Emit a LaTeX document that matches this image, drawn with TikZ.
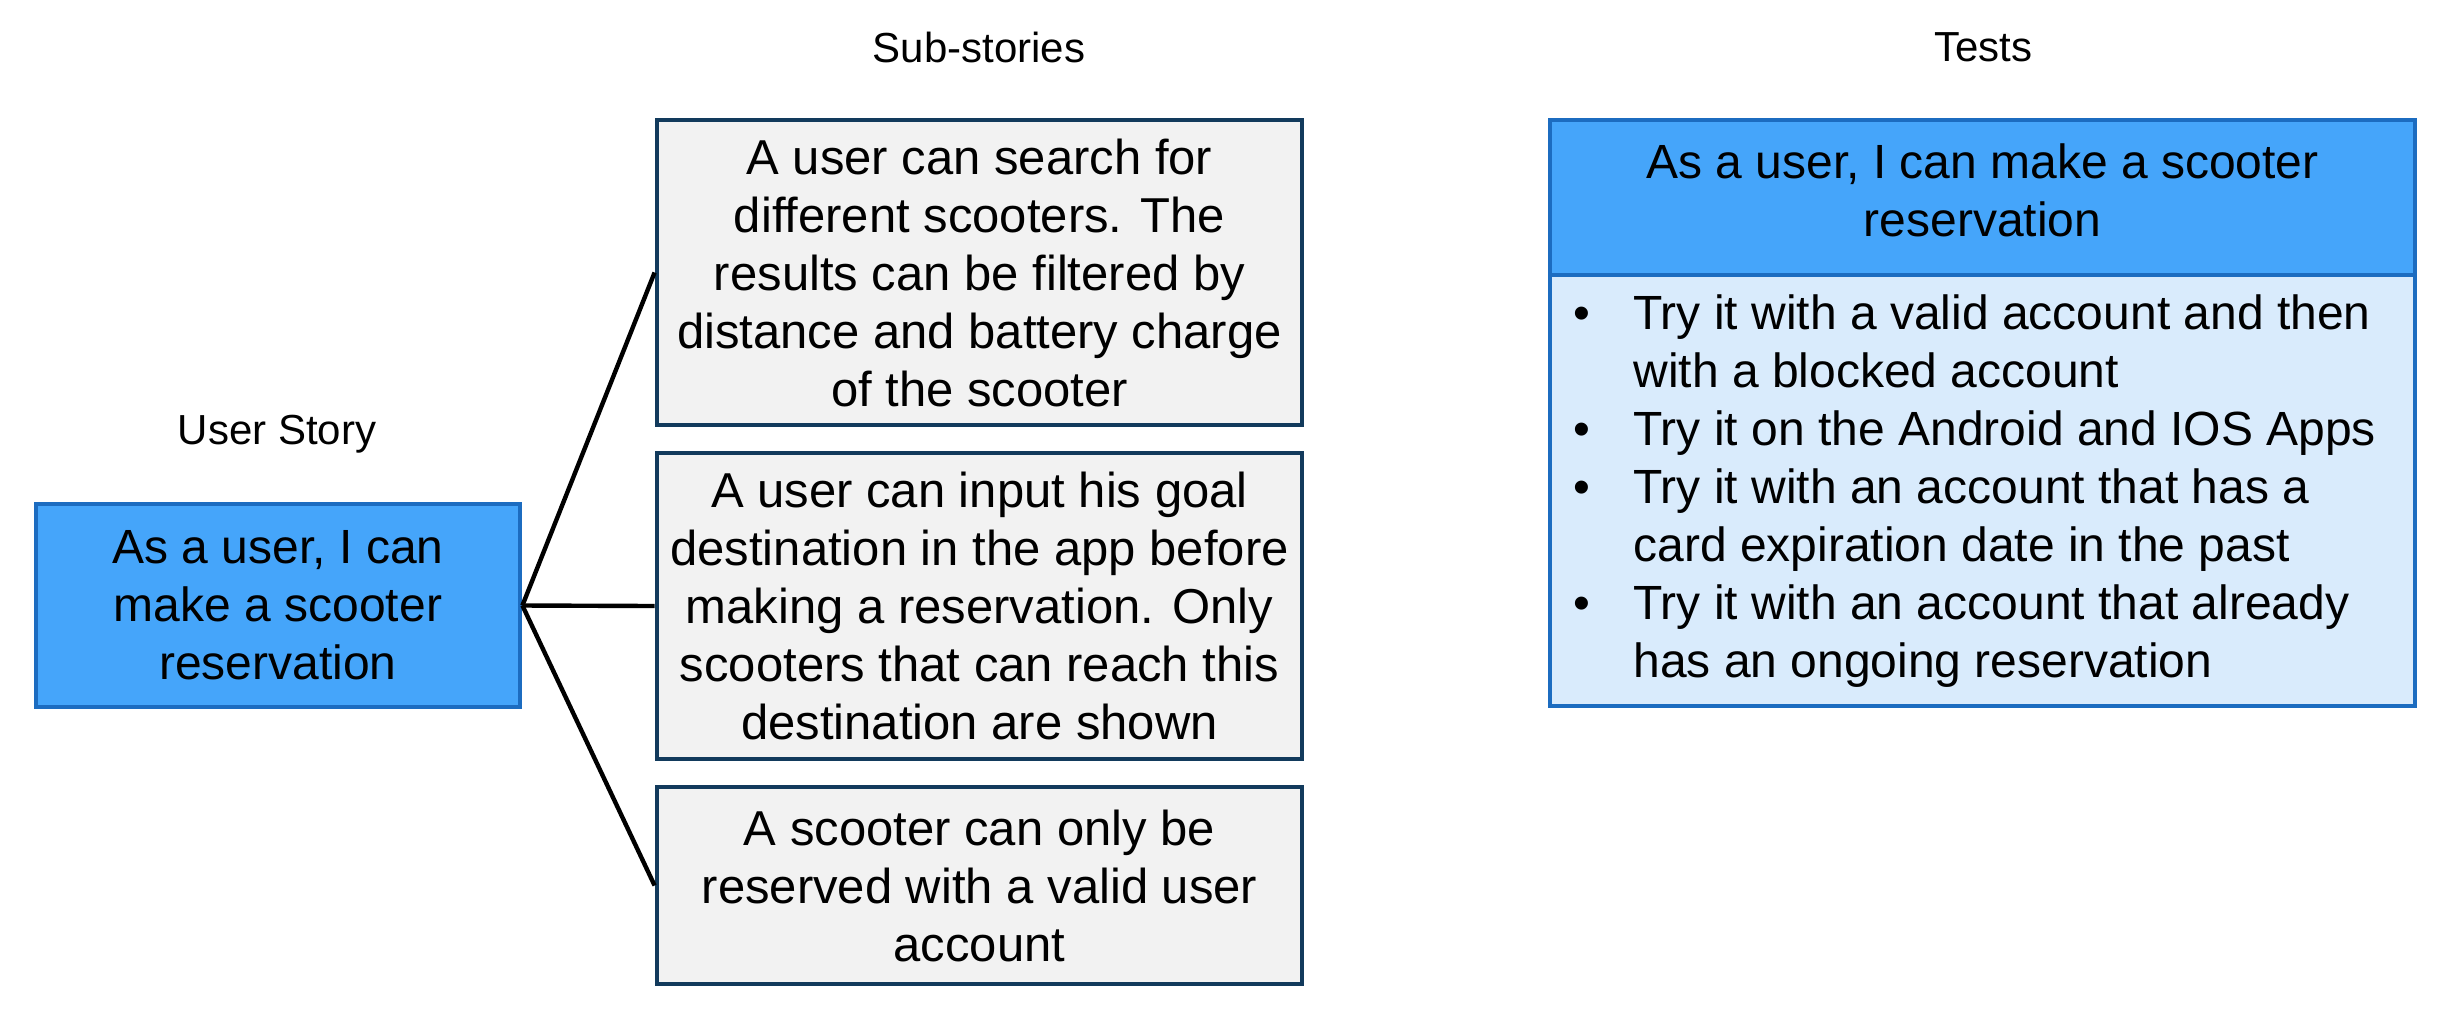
\documentclass[tikz,border=0pt]{standalone}
\usepackage{fontspec}
\setmainfont{Liberation Sans}
\definecolor{usblue}{RGB}{69,165,250}
\definecolor{usborder}{RGB}{28,108,192}
\definecolor{subfill}{RGB}{242,242,242}
\definecolor{subborder}{RGB}{18,58,92}
\definecolor{testlight}{RGB}{217,235,252}
\begin{document}
\begin{tikzpicture}[x=0.5pt,y=-0.5pt,
  boxtext/.style={font=\fontsize{24}{29}\selectfont, align=center},
  subtext/.style={font=\fontsize{24.5}{29}\selectfont, align=center},
  lbl/.style={font=\fontsize{21}{24}\selectfont},
  usbox/.style={draw=usborder, fill=usblue, line width=2.4pt, minimum width=242pt, minimum height=101.5pt, inner sep=0pt, boxtext},
  subbox/.style={draw=subborder, fill=subfill, line width=2.4pt, minimum width=322.5pt, inner sep=0pt, subtext},
  testhead/.style={draw=usborder, fill=usblue, line width=2.4pt, minimum width=432.5pt, minimum height=77.5pt, inner sep=0pt, boxtext},
  testbody/.style={draw=usborder, fill=testlight, line width=2.4pt, minimum width=432.5pt, minimum height=215.5pt, inner sep=0pt},
  conn/.style={line width=2.2pt, black}]
\useasboundingbox (0,0) rectangle (2448,1014);
% labels
\node[lbl] (uslbl) at (277,434) {User Story};
\node[lbl] (sublbl) at (979,47) {Sub-stories};
\node[lbl] (testlbl) at (1983,47) {Tests};
% user story
\node[usbox] (us) at (278,605.5) {As a user, I can\\make a scooter\\reservation};
% sub-stories
\node[subbox, minimum height=152.5pt] (sub1) at (979.5,272.5) {A user can search for\\different scooters. The\\results can be filtered by\\distance and battery charge\\of the scooter};
\node[subbox, minimum height=153pt] (sub2) at (979.5,606) {A user can input his goal\\destination in the app before\\making a reservation. Only\\scooters that can reach this\\destination are shown};
\node[subbox, minimum height=98.5pt] (sub3) at (979.5,885.5) {A scooter can only be\\reserved with a valid user\\account};
% tests
\node[testbody] (tbody) at (1982.5,490.5) {};
\node[testhead] (thead) at (1982.5,197.5) {};
\node[boxtext] (theadtxt) at (1982.5,190) {As a user, I can make a scooter\\reservation};
\node[anchor=base west, inner sep=0pt, font=\fontsize{24}{29}\selectfont] (tlist) at (1573,329)
{\begin{tabular}[t]{@{}p{30pt}@{}l@{}}
\textbullet & Try it with a valid account and then\\
 & with a blocked account\\
\textbullet & Try it on the Android and IOS Apps\\
\textbullet & Try it with an account that has a\\
 & card expiration date in the past\\
\textbullet & Try it with an account that already\\
 & has an ongoing reservation
\end{tabular}};
% connectors
\draw[conn] (us.east) -- (sub1.west);
\draw[conn] (us.east) -- (sub2.west);
\draw[conn] (us.east) -- (sub3.west);
\end{tikzpicture}
\end{document}
